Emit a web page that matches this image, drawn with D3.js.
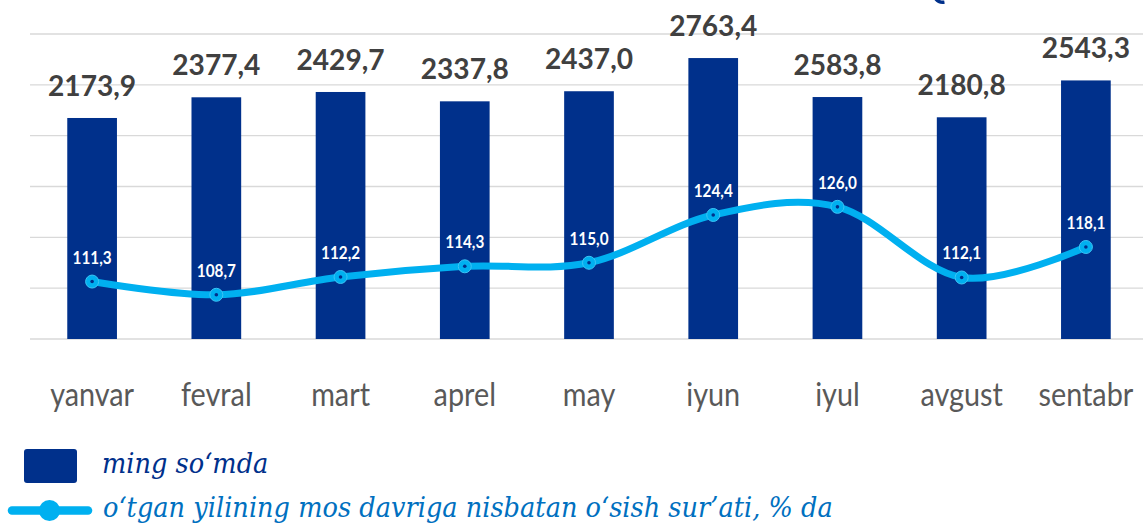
<!DOCTYPE html>
<html>
<head>
<meta charset="utf-8">
<script src="https://cdn.jsdelivr.net/npm/d3@7"></script>
<style>
  html, body { margin: 0; padding: 0; background: #ffffff; }
  svg { display: block; }
</style>
</head>
<body>
<svg id="chart" width="1143" height="523"></svg>
<script>
// ---- data ----
const months = ["yanvar", "fevral", "mart", "aprel", "may", "iyun", "iyul", "avgust", "sentabr"];
// label texts as printed on the chart
const amountLabels = [2173.9, 2377.4, 2429.7, 2337.8, 2437.0, 2763.4, 2583.8, 2180.8, 2543.3];
// bar heights as drawn in the picture (the iyul bar is drawn at ~2380)
const barValues = [2173.9, 2377.4, 2429.7, 2337.8, 2437.0, 2763.4, 2380.0, 2180.8, 2543.3];
const growth = [111.3, 108.7, 112.2, 114.3, 115.0, 124.4, 126.0, 112.1, 118.1];
const gridTicks = [0, 500, 1000, 1500, 2000, 2500, 3000];
const legendLabels = ["ming so\u2018mda", "o\u2018tgan yilining mos davriga nisbatan o\u2018sish sur\u2019ati, % da"];

// ---- styles ----
const BAR = "#00308B";
const LINE = "#00B0F0";
const GRID = "#D9D9D9";

const svg = d3.select("#chart");
const fmt = v => v.toFixed(1).replace(".", ",");

const x = d3.scaleBand().domain(months).range([30, 1148]).paddingInner(0.6).paddingOuter(0.3);
const y = d3.scaleLinear().domain([0, 3000]).range([339, 34]);
const y2 = d3.scaleLinear().domain([100, 160]).range([339, 34]);

// gridlines
svg.append("g").selectAll("line").data(gridTicks).join("line")
  .attr("x1", 30).attr("x2", 1143)
  .attr("y1", d => y(d)).attr("y2", d => y(d))
  .attr("stroke", GRID).attr("stroke-width", 1.4);

// small cut-off decorative shape at top
svg.append("path")
  .attr("transform", "translate(943,-7)")
  .attr("d", d3.arc()({ innerRadius: 7.5, outerRadius: 11, startAngle: Math.PI * 0.95, endAngle: Math.PI * 1.7 }))
  .attr("fill", BAR);

// bars
svg.append("g").selectAll("rect").data(barValues).join("rect")
  .attr("x", (d, i) => x(months[i]))
  .attr("width", x.bandwidth())
  .attr("y", d => y(d))
  .attr("height", d => y(0) - y(d))
  .attr("fill", BAR);

// helper for condensed text
function label(g, tx, ty, text, size, weight, fill, sx, anchor, family, style) {
  const gg = g.append("g").attr("transform", `translate(${tx},${ty})`);
  gg.append("text")
    .attr("transform", `scale(${sx},1)`)
    .attr("text-anchor", anchor || "middle")
    .attr("font-family", family || "Lato, 'Open Sans', sans-serif")
    .attr("font-size", size)
    .attr("font-weight", weight)
    .attr("font-style", style || "normal")
    .attr("fill", fill)
    .text(text);
  return gg;
}

// bar labels
const barLabelG = svg.append("g");
barValues.forEach((d, i) => {
  label(barLabelG, x(months[i]) + x.bandwidth() / 2, y(d) - 22, fmt(amountLabels[i]), 29, 700, "#404040", 0.97);
});

// x-axis labels
const xLabels = svg.append("g");
months.forEach(m => {
  label(xLabels, x(m) + x.bandwidth() / 2, 406, m, 32, 400, "#595959", 0.9);
});

// line
const cx = (d, i) => x(months[i]) + x.bandwidth() / 2;
const line = d3.line().x(cx).y(d => y2(d)).curve(d3.curveCatmullRom.alpha(0));
svg.append("path").datum(growth)
  .attr("d", line)
  .attr("fill", "none")
  .attr("stroke", LINE)
  .attr("stroke-width", 7)
  .attr("stroke-linecap", "round")
  .attr("stroke-linejoin", "round");

const markers = svg.append("g");
markers.selectAll("circle.m").data(growth).join("circle").attr("class", "m")
  .attr("cx", cx).attr("cy", d => y2(d)).attr("r", 6.5)
  .attr("fill", LINE).attr("stroke", "#3CC4F5").attr("stroke-width", 1);
markers.selectAll("circle.c").data(growth).join("circle").attr("class", "c")
  .attr("cx", cx).attr("cy", d => y2(d)).attr("r", 1.8)
  .attr("fill", BAR);

// line labels
const lineLabels = svg.append("g");
growth.forEach((d, i) => {
  label(lineLabels, cx(d, i), y2(d) - 18, fmt(d), 17, 700, "#ffffff", 0.9);
});

// legend
const lg = svg.append("g");
lg.append("rect").attr("x", 24).attr("y", 449).attr("width", 53).attr("height", 34)
  .attr("rx", 3).attr("fill", BAR);
label(lg, 102, 473, legendLabels[0], 27, 400, "#00308B", 0.95, "start", "'DejaVu Serif', serif", "italic");

lg.append("line").attr("x1", 12).attr("x2", 88).attr("y1", 510.5).attr("y2", 510.5)
  .attr("stroke", LINE).attr("stroke-width", 8.5).attr("stroke-linecap", "round");
lg.append("circle").attr("cx", 49.5).attr("cy", 510.5).attr("r", 10.5).attr("fill", LINE);
label(lg, 103, 517, legendLabels[1], 27, 400, "#0070C0", 0.95, "start", "'DejaVu Serif', serif", "italic");
</script>
</body>
</html>
